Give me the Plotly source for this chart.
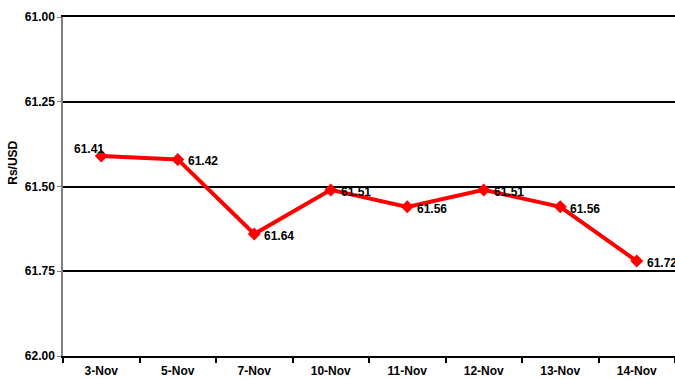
import plotly.graph_objects as go

# Daily Rs/USD reference rate, November
dates = ["3-Nov", "5-Nov", "7-Nov", "10-Nov", "11-Nov", "12-Nov", "13-Nov", "14-Nov"]
rates = [61.41, 61.42, 61.64, 61.51, 61.56, 61.51, 61.56, 61.72]

y_ticks = [61.00, 61.25, 61.50, 61.75, 62.00]

font_family = "Liberation Sans, Arial, sans-serif"
bold = dict(family=font_family, size=12, color="#000000", weight="bold")

fig = go.Figure()
fig.add_trace(go.Scatter(
    x=dates,
    y=rates,
    mode="lines+markers",
    line=dict(color="#ff0000", width=4),
    marker=dict(symbol="diamond", size=10, color="#ff0000"),
    cliponaxis=False,
    showlegend=False,
))

# value labels: first one sits above-left of its point, the rest to the right
labels = []
for i, (d, v) in enumerate(zip(dates, rates)):
    if i == 0:
        labels.append(dict(x=d, y=v, text=f"{v:.2f}", xanchor="center", yanchor="middle",
                           xshift=-12, yshift=7, showarrow=False, font=bold))
    else:
        labels.append(dict(x=d, y=v, text=f"{v:.2f}", xanchor="left", yanchor="middle",
                           xshift=8, yshift=-2, showarrow=False, font=bold))

labels.append(dict(
    text="Rs/USD",
    x=-50 / 612, xref="paper", xanchor="center",
    y=0.57, yref="paper", yanchor="middle",
    textangle=-90,
    showarrow=False,
    font=bold,
))

fig.update_layout(
    width=675,
    height=379,
    margin=dict(l=63, r=0, t=17, b=23),
    paper_bgcolor="#ffffff",
    plot_bgcolor="#ffffff",
    font=dict(family=font_family, size=12, color="#000000"),
    xaxis=dict(
        type="category",
        tickson="boundaries",
        ticks="outside",
        ticklen=5,
        tickwidth=1.5,
        tickcolor="#000000",
        showline=True,
        mirror=True,
        linecolor="#000000",
        linewidth=2,
        showgrid=False,
        tickfont=bold,
        ticklabelstandoff=3,
        range=[-0.5, 7.5],
    ),
    yaxis=dict(
        range=[62.0, 61.0],
        tickvals=y_ticks,
        ticktext=[f"{v:.2f}" for v in y_ticks],
        ticks="outside",
        ticklen=4,
        tickcolor="#808080",
        showline=True,
        linecolor="#808080",
        linewidth=1.5,
        showgrid=True,
        gridcolor="#000000",
        gridwidth=2,
        zeroline=False,
        tickfont=bold,
    ),
    annotations=labels,
)

fig.write_html("out.html")
